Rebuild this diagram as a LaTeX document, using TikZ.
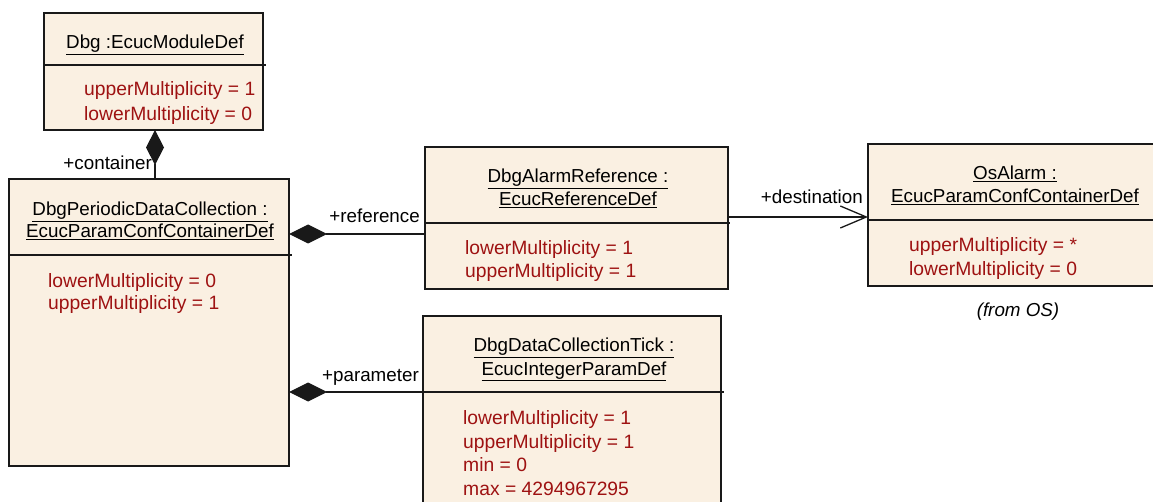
\documentclass[tikz,border=0pt]{standalone}
\usepackage{fontspec}
\setmainfont{Liberation Sans}
\usetikzlibrary{arrows.meta}
\definecolor{boxfill}{RGB}{250,240,226}
\definecolor{attrred}{RGB}{158,18,18}
\definecolor{linecol}{RGB}{25,25,25}
\newcommand{\umlfont}{\fontsize{18.8}{23}\selectfont}
\newcommand{\attrfont}{\fontsize{19.3}{23}\selectfont}
\begin{document}
\begin{tikzpicture}[x=1pt,y=-1pt,
  umlbox/.style={draw=linecol, line width=1.3pt, fill=boxfill, inner sep=0pt, outer sep=0pt, anchor=north west},
  sepline/.style={draw=linecol, line width=1.3pt},
  ttl/.style={font=\umlfont, inner sep=0pt, text height=16pt, text depth=2pt, anchor=center},
  attr/.style={font=\attrfont, text=attrred, inner sep=0pt, text height=16pt, text depth=2pt, anchor=west},
  lbl/.style={font=\umlfont, inner sep=0pt, text height=16pt, text depth=2pt},
  conn/.style={draw=linecol, line width=1.3pt}
]
\useasboundingbox (0,0) rectangle (1153,502);
\clip (0,0) rectangle (1153,502);

% boxes
\node[umlbox, minimum width=219pt, minimum height=117pt] (dbg) at (44,13) {};
\node[umlbox, minimum width=280pt, minimum height=287pt] (pdc) at (9,179) {};
\node[umlbox, minimum width=303pt, minimum height=142pt] (aref) at (425,147) {};
\node[umlbox, minimum width=294pt, minimum height=142pt] (osa) at (868,144) {};
\node[umlbox, minimum width=298pt, minimum height=220pt] (tick) at (423,316) {};

% compartment separators
\draw[sepline] (44,65) -- (266,65);
\draw[sepline] (9,255) -- (292,255);
\draw[sepline] (425,223) -- (730,223);
\draw[sepline] (868,220) -- (1160,220);
\draw[sepline] (423,392) -- (724,392);

% titles
\node[ttl] (dbgt) at (155,42) {\underline{Dbg :EcucModuleDef}};
\node[ttl] (pdct1) at (150,209) {\underline{DbgPeriodicDataCollection :}};
\node[ttl] (pdct2) at (150,231) {\underline{EcucParamConfContainerDef}};
\node[ttl] (areft1) at (578,176) {\underline{DbgAlarmReference :}};
\node[ttl] (areft2) at (578,199) {\underline{EcucReferenceDef}};
\node[ttl] (osat1) at (1015,173) {\underline{OsAlarm :}};
\node[ttl] (osat2) at (1015,196) {\underline{EcucParamConfContainerDef}};
\node[ttl] (tickt1) at (574,345) {\underline{DbgDataCollectionTick :}};
\node[ttl] (tickt2) at (574,368) {\underline{EcucIntegerParamDef}};

% attributes
\node[attr] (dbga1) at (84,89) {upperMultiplicity = 1};
\node[attr] (dbga2) at (84,114) {lowerMultiplicity = 0};
\node[attr] (pdca1) at (48,281) {lowerMultiplicity = 0};
\node[attr] (pdca2) at (48,303) {upperMultiplicity = 1};
\node[attr] (arefa1) at (465,248) {lowerMultiplicity = 1};
\node[attr] (arefa2) at (465,271) {upperMultiplicity = 1};
\node[attr] (osaa1) at (909,245) {upperMultiplicity = *};
\node[attr] (osaa2) at (909,269) {lowerMultiplicity = 0};
\node[attr] (ticka1) at (463,417) {lowerMultiplicity = 1};
\node[attr] (ticka2) at (463,441) {upperMultiplicity = 1};
\node[attr] (ticka3) at (463,464) {min = 0};
\node[attr] (ticka4) at (463,488) {max = 4294967295};

% connectors
\coordinate (cx) at (155,0);
\coordinate (ry) at (0,234);
\coordinate (py) at (0,392);
\coordinate (dy) at (0,217);
\draw[conn, {Diamond[length=35pt,width=18pt]}-] (dbg.south -| cx) -- (pdc.north -| cx);
\draw[conn, {Diamond[length=38pt,width=19pt]}-] (pdc.east |- ry) -- (aref.west |- ry);
\draw[conn, {Diamond[length=38pt,width=19pt]}-] (pdc.east |- py) -- (tick.west |- py);
\draw[conn, -{Straight Barb[length=26pt,width=22pt]}] (aref.east |- dy) -- (osa.west |- dy);

% role labels
\node[lbl, anchor=east] (lcont) at (152,163) {+container};
\node[lbl, anchor=east] (lref) at (420,216) {+reference};
\node[lbl, anchor=east] (ldest) at (863,197) {+destination};
\node[lbl, anchor=east] (lpar) at (419,374) {+parameter};
\node[lbl, font=\umlfont\itshape] (fromos) at (1018,310) {(from OS)};
\end{tikzpicture}
\end{document}
